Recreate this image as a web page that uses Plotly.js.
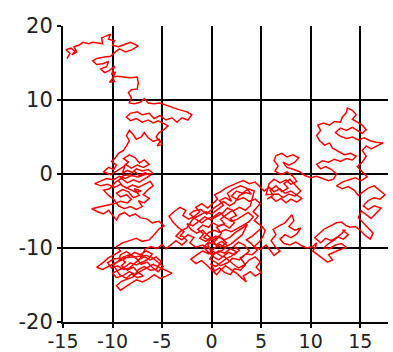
<!DOCTYPE html>
<html><head><meta charset="utf-8">
<script src="https://cdn.plot.ly/plotly-3.0.1.min.js"></script>
<style>html,body{margin:0;padding:0;background:#fff}#chart{width:393px;height:352px}</style>
</head><body><div id="chart"></div>
<script>
// Random walk path (x, y pairs)
const walkTopLeft = [
[-14.6,15.6],[-14.3,16.3],[-14.7,16.8],[-14.2,17.0],[-13.8,16.6],[-14.1,16.1],[-13.6,16.5],[-13.9,17.2],[-13.4,17.4],[-13.0,17.8],
[-12.4,17.6],[-12.0,17.8],[-11.5,17.7],[-11.0,17.6],[-11.1,18.4],[-10.6,18.7],[-10.2,18.9],[-10.4,18.2],[-9.8,18.0],[-10.0,17.4],
[-9.4,17.2],[-8.8,17.5],[-8.2,17.8],[-7.4,17.3],[-8.0,16.8],[-8.7,16.5],[-9.3,16.9],[-9.8,16.4],[-10.2,15.9],[-10.8,15.8],
[-11.6,15.6],[-12.0,15.3],[-11.6,14.8],[-11.0,14.9],[-10.4,15.2],[-10.6,14.5],[-11.2,14.2],[-10.8,13.7],[-10.3,14.0],[-9.8,14.6],
[-10.1,13.4],[-9.7,13.8],[-10.0,12.9],[-10.3,12.4],[-9.8,12.5],[-10.0,13.1],[-9.5,13.2],[-8.9,13.1],[-8.2,13.0],[-7.5,13.1],
[-7.4,12.3],[-7.5,11.5],[-8.1,11.4],[-8.4,11.0],[-8.1,10.3],[-8.3,9.6],[-7.8,9.5],[-7.2,9.7],[-6.8,10.2],[-6.4,9.6],
[-5.8,9.5],[-5.2,9.6],[-4.6,9.3],[-4.0,9.1],[-3.3,8.7],[-2.5,8.4],[-2.0,8.0],[-2.4,7.3],[-3.0,7.6],[-3.5,7.0],
[-4.0,7.6],[-4.6,7.3],[-5.2,7.9],[-5.8,7.5],[-6.3,8.2],[-7.0,8.0],[-7.5,8.4],[-8.2,8.2],[-8.6,7.7],[-8.2,7.2],
[-7.6,7.5],[-7.0,7.0],[-6.4,7.3],[-5.9,6.9],[-5.4,7.2],[-4.8,6.8],[-4.4,6.5],[-4.8,6.0],[-5.3,5.6],[-5.6,5.0],
[-5.2,4.4],[-5.5,3.8],[-5.0,4.0],[-5.3,4.7],[-5.9,4.4],[-6.4,4.9],[-6.8,5.6],[-7.1,5.0],[-7.6,4.7],[-7.9,5.3],
[-8.3,5.9],[-8.6,5.2],[-8.3,4.5],[-8.6,3.8],[-8.9,3.2],[-9.4,2.8],[-9.7,2.2],[-10.1,1.7],[-9.6,1.2],[-9.9,0.6]
];
const walkLeftMiddle = [
[-10.4,0.9],[-10.9,0.3],[-10.2,-0.1],[-9.6,0.4],[-9.2,0.7],[-8.9,1.0],[-8.4,1.6],[-8.9,2.1],[-8.3,2.6],[-7.7,2.2],
[-7.3,1.5],[-6.8,1.9],[-6.3,1.3],[-6.9,0.9],[-7.5,1.2],[-8.1,0.8],[-8.7,1.3],[-9.0,0.1],[-8.5,0.5],[-8.0,0.2],
[-7.6,0.7],[-7.0,0.4],[-6.4,0.6],[-5.9,0.1],[-6.8,-0.1],[-7.4,-0.4],[-8.1,-0.2],[-8.7,-0.6],[-9.3,-0.3],[-9.9,-0.8],
[-10.6,-0.6],[-11.2,-1.0],[-11.8,-1.3],[-11.2,-1.6],[-10.5,-1.4],[-9.8,-1.8],[-9.2,-1.4],[-8.6,-1.9],[-8.0,-1.5],[-7.4,-1.8],
[-6.8,-1.4],[-6.2,-1.0],[-5.9,-1.6],[-6.4,-2.1],[-6.9,-2.8],[-6.3,-3.3],[-6.8,-3.9],[-7.4,-3.6],[-7.0,-4.4],[-7.6,-4.8],
[-8.2,-4.4],[-8.8,-4.7],[-9.4,-4.3],[-9.9,-3.4],[-10.4,-2.9],[-10.9,-2.2],[-10.3,-2.0],[-9.7,-1.1],[-9.1,-0.6],[-8.5,-1.2],
[-7.9,-0.8],[-7.3,-1.1],[-6.7,-0.6],[-6.2,-0.2],[-6.7,0.2],[-7.3,-0.2],[-7.8,0.4],[-8.3,-0.1],[-8.9,-0.2],[-9.4,-0.9],
[-9.0,-1.6],[-8.3,-2.0],[-7.6,-2.5],[-7.1,-2.3],[-7.8,-2.0],[-7.3,-2.9],[-7.9,-3.2],[-8.4,-2.4],[-9.0,-2.1],[-9.6,-2.6],
[-9.2,-3.1],[-8.6,-2.8],[-8.1,-3.4],[-8.5,-3.9],[-9.2,-3.7],[-9.8,-4.0],[-10.5,-4.2],[-11.2,-4.4],[-12.1,-4.7],[-11.5,-5.1],
[-10.9,-5.4],[-10.4,-4.9],[-10.0,-5.6],[-9.6,-6.2],[-9.3,-5.5],[-8.8,-5.2],[-8.3,-5.7],[-7.7,-5.4],[-7.2,-5.9],[-6.5,-6.1],
[-6.0,-6.6],[-5.3,-6.4],[-4.8,-7.0],[-5.3,-7.4],[-5.8,-8.2],[-6.3,-8.9],[-7.0,-9.1],[-7.6,-8.7],[-8.3,-9.0],[-9.0,-9.3],
[-9.6,-9.8],[-9.2,-10.4]
];
const walkBottomLeft = [
[-9.8,-10.9],[-10.4,-11.3],[-10.9,-11.9],[-11.6,-12.6],[-11.0,-12.9],[-10.3,-12.4],[-9.7,-12.0],[-9.0,-11.6],[-8.4,-11.2],[-7.8,-10.6],
[-7.2,-10.9],[-6.6,-10.4],[-6.0,-10.8],[-6.4,-11.5],[-7.0,-11.9],[-7.6,-12.3],[-8.2,-12.0],[-8.8,-12.6],[-9.4,-13.0],[-10.0,-13.4],
[-9.6,-14.0],[-8.9,-13.7],[-8.3,-13.2],[-7.7,-13.6],[-7.1,-13.1],[-6.5,-12.7],[-5.9,-12.2],[-5.3,-12.6],[-4.7,-13.0],[-4.0,-13.4],
[-4.6,-13.8],[-5.2,-14.1],[-5.8,-13.6],[-6.4,-14.2],[-7.0,-14.6],[-7.6,-14.3],[-8.2,-14.8],[-8.8,-15.3],[-9.2,-15.7],[-9.6,-15.1],
[-9.1,-14.5],[-8.5,-14.2],[-7.9,-13.9],[-7.4,-12.9],[-6.8,-12.5],[-6.2,-13.0],[-5.6,-12.9],[-5.1,-11.8],[-5.6,-11.2],[-6.2,-11.6],
[-6.8,-11.2],[-7.4,-11.6],[-8.0,-11.1],[-8.6,-10.5],[-9.2,-10.9],[-9.3,-11.3],[-8.7,-11.9],[-9.1,-12.4],[-8.5,-13.0],[-7.9,-12.6],
[-7.4,-13.3],[-6.9,-13.8],[-7.5,-14.0],[-8.1,-13.5],[-8.6,-14.1],[-9.3,-13.6],[-9.9,-12.3],[-9.4,-11.8],[-8.9,-11.2],[-8.2,-10.9],
[-7.6,-11.4],[-7.1,-12.2],[-6.5,-11.9],[-6.0,-12.6],[-5.4,-13.2],[-4.9,-12.5],[-5.4,-11.9],[-6.0,-11.3],[-6.6,-11.0],[-9.9,-11.5],
[-10.5,-12.0],[-10.1,-12.7],[-9.5,-12.4],[-8.9,-12.9],[-8.3,-12.7],[-7.8,-12.1],[-7.2,-11.4],[-6.7,-10.1],[-6.1,-9.8],[-5.5,-10.1],
[-5.0,-9.5],[-4.6,-10.1],[-4.1,-9.6],[-3.6,-9.0],[-3.0,-9.6],[-2.5,-9.0],[-2.9,-8.4]
];
const walkCentreA = [
[-3.2,-8.4],[-2.8,-7.8],[-3.4,-7.2],[-3.9,-6.5],[-4.3,-5.7],[-3.8,-5.1],[-3.2,-4.5],[-2.6,-4.9],[-2.9,-5.6],[-2.3,-6.1],
[-1.7,-5.7],[-1.2,-5.1],[-1.6,-4.5],[-1.0,-4.0],[-0.4,-4.6],[0.1,-4.0],[0.6,-3.4],[0.3,-2.8],[0.9,-2.4],[1.4,-1.9],
[2.0,-1.5],[2.6,-1.2],[3.2,-0.9],[3.8,-1.3],[4.4,-1.1],[4.8,-1.7]
];
const walkMidRight = [
[5.3,-2.3],[5.8,-1.8],[6.3,-2.4],[6.9,-2.0],[7.4,-2.6],[8.0,-2.3],[8.6,-2.8],[9.1,-3.3],[8.6,-3.8],[8.0,-3.4],
[7.5,-3.9],[7.0,-3.3],[6.5,-3.7],[6.0,-3.1],[5.6,-3.4],[6.2,-2.9],[5.9,-2.2],[6.5,-1.6],[7.1,-2.4],[7.7,-1.9],
[7.3,-1.3],[7.9,-0.7],[8.5,-1.6],[9.0,-2.3],[8.4,-3.0],[7.8,-2.7],[7.2,-3.2],[6.7,-2.7],[5.5,-2.8],[5.8,-1.3],
[6.3,-0.7],[6.9,-1.2],[7.5,-0.8],[8.0,-1.4],[8.6,-1.0],[8.2,-0.3],[7.6,0.3],[7.0,-0.1],[6.4,0.4],[6.7,1.1],
[6.3,1.8],[6.5,2.5],[7.1,2.8],[7.6,2.3],[8.2,2.6],[8.8,2.2],[8.4,1.6],[7.8,1.2],[7.2,1.6],[7.6,0.9],
[8.3,0.6],[8.9,0.3],[9.4,-0.2],[10.0,-0.5],[10.6,-0.3],[11.2,-0.6],[11.8,-0.9],[12.3,-0.7]
];
const walkTopRight = [
[12.6,0.0],[12.1,0.6],[11.5,1.0],[11.0,0.7],[10.6,1.3],[11.2,1.8],[11.8,1.6],[12.4,2.0],[13.0,1.7],[13.6,2.1],
[14.2,1.9],[14.6,2.4],[14.0,2.8],[13.4,2.6],[12.8,3.1],[12.2,3.5],[11.9,4.2],[11.4,3.9],[10.9,4.5],[10.6,5.2],
[11.0,5.9],[10.7,6.6],[11.3,6.9],[11.9,6.6],[12.4,7.1],[13.0,7.0],[13.2,7.7],[13.6,8.3],[13.7,8.9],[14.2,8.6],
[14.6,8.0],[14.2,7.4],[14.7,7.0],[15.2,6.6],[15.6,6.0],[15.2,5.5],[14.7,5.9],[14.2,6.3],[13.6,5.9],[13.0,6.2],
[12.5,5.6],[13.0,5.1],[13.6,4.8],[14.2,5.0],[14.8,4.6],[15.4,4.9],[16.0,4.5],[16.6,4.3],[17.3,4.2],[16.7,3.8],
[16.1,3.4],[15.6,3.8],[15.2,3.2],[15.6,2.4],[15.2,1.6],[14.7,1.0],[15.2,0.3],[15.7,-0.4]
];
const walkRightColumn = [
[15.1,-0.9],[14.5,-0.5],[13.8,-0.8],[13.2,-1.1],[12.6,-1.6],[13.2,-2.0],[13.8,-1.7],[14.4,-2.2],[14.8,-2.9],[15.3,-2.4],
[15.8,-1.9],[16.4,-1.6],[16.9,-2.2],[17.5,-2.8],[17.0,-3.4],[16.4,-3.2],[15.8,-3.6],[15.3,-4.3],[15.8,-4.8],[16.4,-4.3],
[17.1,-4.6],[16.6,-5.3],[16.1,-6.0],[15.6,-5.5],[15.1,-5.0],[14.8,-5.9],[15.3,-6.6],[15.8,-7.3],[16.3,-8.0],[16.0,-8.8],
[15.5,-8.3],[15.0,-7.6],[14.5,-7.1],[14.0,-7.2]
];
const walkBottomRight = [
[13.6,-7.0],[13.1,-6.5],[12.6,-6.6],[12.0,-7.0],[11.4,-7.4],[10.9,-8.0],[10.4,-8.6],[11.0,-9.3],[11.5,-8.7],[12.1,-9.0],
[12.7,-8.5],[13.3,-8.8],[13.8,-8.2],[13.2,-7.6],[13.5,-7.6],[13.0,-8.2],[12.4,-8.9],[11.8,-9.4],[11.3,-10.0],[11.9,-10.1],
[12.5,-9.6],[13.1,-9.4],[13.6,-9.9],[13.0,-10.2],[12.4,-10.5],[11.8,-10.9],[12.2,-11.6],[11.7,-11.9],[11.2,-11.4],[10.7,-10.9],
[10.2,-10.4],[10.5,-9.8],[10.6,-9.3]
];
const walkReturn = [
[10.2,-9.8],[9.6,-10.0],[9.1,-9.7],[8.5,-9.2],[7.9,-9.6],[7.3,-9.4],[6.9,-8.8],[7.4,-8.2],[8.0,-8.6],[8.6,-8.1],
[9.0,-7.3],[8.4,-7.6],[7.8,-7.1],[8.3,-6.3],[8.1,-5.5],[7.8,-6.0],[7.4,-6.6],[6.8,-7.0],[6.2,-7.5],[6.5,-8.2],
[6.0,-9.0],[6.4,-9.8],[6.9,-10.4],[6.3,-11.0],[5.5,-9.6],[4.9,-10.2],[4.3,-9.8],[4.8,-9.2],[5.2,-8.4],[5.4,-7.6],
[5.0,-7.0]
];
const walkCentreB = [
[4.3,-6.3],[4.7,-5.7],[4.2,-5.1],[4.9,-4.0],[4.4,-3.4],[3.8,-3.7],[3.2,-3.2],[2.6,-3.5],[2.0,-3.0],[2.5,-2.3],
[3.1,-2.6],[3.7,-2.0],[4.3,-2.3],[3.9,-4.3],[3.4,-4.9],[2.8,-4.5],[2.2,-5.0],[1.6,-4.6],[1.1,-5.3],[0.5,-5.7],
[-0.1,-6.2],[-0.7,-5.8],[-1.3,-6.4],[-1.9,-7.0],[-2.5,-6.7],[-2.1,-7.5],[-1.5,-8.0],[-0.9,-7.6],[-0.4,-8.3],[0.2,-8.9],
[0.7,-8.4],[1.3,-8.9],[1.9,-8.5],[2.4,-7.9],[3.0,-7.4],[3.6,-6.8],[3.1,-8.2],[2.6,-8.8],[2.0,-9.4],[1.4,-9.9],
[0.8,-9.5],[0.2,-10.1],[-0.3,-10.8],[-0.9,-10.4],[-1.5,-10.9],[-2.1,-11.5],[-1.6,-12.1],[-1.0,-11.7],[-0.5,-12.3],[0.0,-12.9],
[0.5,-13.6],[0.9,-13.0],[1.4,-12.4],[1.9,-12.9],[2.5,-13.4],[3.0,-14.0],[3.5,-14.6],[3.2,-13.8],[3.9,-13.2],[4.4,-13.8],
[5.0,-13.3],[4.5,-12.6],[4.9,-11.9],[4.4,-11.2],[3.8,-11.6],[3.3,-12.3],[2.7,-12.7],[2.2,-12.2],[1.7,-11.6],[1.2,-11.1],
[0.7,-11.6],[0.2,-11.2],[-0.4,-9.5],[0.4,-9.0],[1.0,-8.0],[0.5,-7.2],[1.2,-6.8],[1.8,-7.3],[2.3,-6.6],[1.9,-6.0],
[2.5,-5.6],[2.1,-4.9],[1.5,-5.5],[0.9,-6.1],[1.3,-6.7],[0.7,-7.0],[0.1,-6.6],[-0.3,-7.2],[-0.9,-6.9],[-1.4,-7.5],
[-0.8,-8.1],[-1.2,-8.7],[-0.6,-9.1],[0.0,-8.5],[0.4,-9.6],[1.0,-9.1],[1.6,-9.7],[1.1,-10.3],[0.5,-10.7],[1.1,-11.2],
[1.7,-10.6],[2.3,-10.9],[2.8,-10.3],[2.2,-9.8],[2.7,-9.2],[3.3,-9.6],[3.8,-10.4],[3.3,-11.0],[2.8,-11.6],[2.1,-11.4],
[1.6,-12.0],[0.9,-12.4],[0.4,-11.9],[-0.2,-11.5],[0.3,-10.6],[-0.3,-10.0],[-0.9,-9.6],[-1.6,-9.9],[-2.2,-9.3],[-1.8,-8.6],
[-2.4,-8.2],[-3.0,-8.9],[-3.6,-8.4],[-3.1,-7.7],[-2.5,-7.3],[-1.9,-6.1],[-1.3,-5.6],[-0.6,-5.1],[0.0,-5.4],[0.6,-4.8],
[1.2,-4.2],[0.8,-3.6],[1.4,-3.2],[2.0,-3.7],[1.6,-2.6],[2.2,-2.0],[2.9,-1.6],[3.5,-1.9]
];
const walkCentreC = [
[4.0,-2.7],[3.4,-2.5],[2.8,-2.9],[2.3,-3.9],[1.8,-4.3],[1.2,-3.7],[0.6,-4.2],[0.0,-4.8],[-0.5,-5.4],[-1.1,-4.8],
[-1.8,-5.0],[-2.2,-5.4],[-1.6,-6.1],[-1.0,-6.6],[-0.4,-6.0],[0.2,-5.8],[0.8,-5.2],[1.4,-5.9],[2.0,-6.4],[2.6,-6.1],
[3.2,-5.6],[3.7,-5.2],[4.2,-5.8],[3.8,-6.4],[3.2,-6.9],[2.6,-7.3],[2.0,-7.8],[1.4,-7.5],[0.8,-7.9],[0.3,-7.6],
[-0.3,-7.9],[-0.8,-8.6],[-0.2,-9.0],[0.4,-8.4],[1.0,-8.7],[1.5,-9.3],[0.9,-9.9],[0.3,-9.5],[-0.3,-9.2],[-0.8,-9.9],
[-0.4,-10.5],[0.1,-11.0],[0.7,-10.4],[1.3,-10.7],[1.9,-10.1],[2.5,-10.5],[2.0,-11.1],[1.5,-11.4],[1.0,-11.9],[0.4,-12.5],
[-0.1,-12.1],[0.3,-13.1],[0.8,-12.7],[1.3,-13.3],[1.9,-13.6],[2.3,-12.8],[2.9,-13.0],[3.4,-12.3],[2.9,-11.3],[3.5,-10.8],
[4.1,-10.9],[4.6,-10.3],[4.0,-9.4],[3.5,-8.9],[4.1,-8.4],[4.6,-7.8],[5.2,-7.1]
];

const xTicks = [-15,-10,-5,0,5,10,15];
const yTicks = [-20,-10,0,10,20];

const segments = [walkTopLeft, walkLeftMiddle, walkBottomLeft, walkCentreA, walkMidRight, walkTopRight,
                  walkRightColumn, walkBottomRight, walkReturn, walkCentreB, walkCentreC];
const pts = [].concat(...segments);
const xs = pts.map(p => p[0]);
const ys = pts.map(p => p[1]);

const tickFontX = {family: 'DejaVu Sans, sans-serif', size: 19, color: '#222'};
const tickFontY = {family: 'DejaVu Sans, sans-serif', size: 21, color: '#222'};

Plotly.newPlot('chart', [{
  x: xs, y: ys, type: 'scatter', mode: 'lines',
  line: {color: '#ff0000', width: 1.5}, hoverinfo: 'skip'
}], {
  width: 393, height: 352,
  margin: {l: 63, r: 5, t: 26, b: 30},
  paper_bgcolor: '#fff', plot_bgcolor: '#fff',
  showlegend: false,
  xaxis: {
    range: [-15, 17.8], tickvals: xTicks, ticktext: xTicks.map(String),
    showgrid: true, gridcolor: '#000', gridwidth: 2,
    showline: true, linecolor: '#000', linewidth: 2,
    ticks: 'outside', ticklen: 4, tickcolor: '#000', tickwidth: 2,
    ticklabelstandoff: -3,
    zeroline: false, tickfont: tickFontX
  },
  yaxis: {
    range: [-20, 20], tickvals: yTicks, ticktext: yTicks.map(String),
    showgrid: true, gridcolor: '#000', gridwidth: 2,
    showline: true, linecolor: '#000', linewidth: 2,
    ticks: 'outside', ticklen: 4, tickcolor: '#000', tickwidth: 2,
    zeroline: false, tickfont: tickFontY
  }
}, {displayModeBar: false, staticPlot: true});
</script></body></html>
